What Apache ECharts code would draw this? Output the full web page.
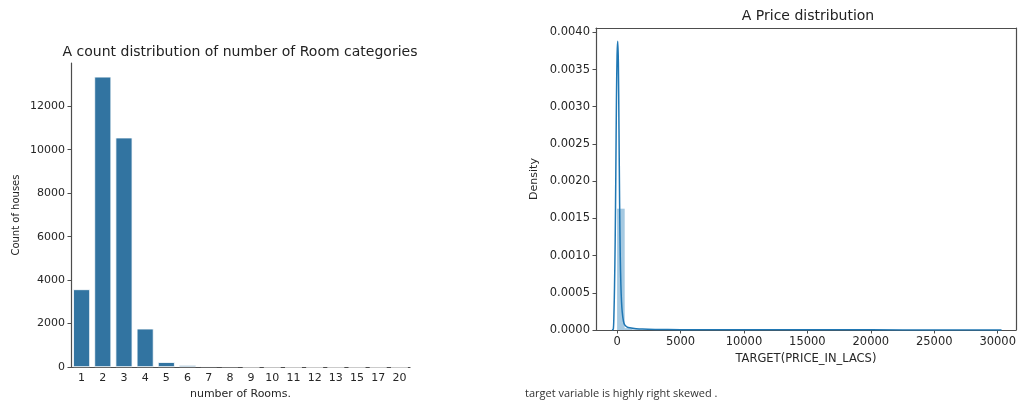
<!DOCTYPE html>
<html><head><meta charset="utf-8">
<script src="https://cdn.jsdelivr.net/npm/echarts@6/dist/echarts.min.js"></script>
<style>html,body{margin:0;padding:0;background:#fff}#c{width:1019px;height:405px}</style>
</head><body><div id="c"></div>
<script>
// Left chart: count of houses per number of rooms
const roomCategories = ['1','2','3','4','5','6','7','8','9','10','11','12','13','15','17','20'];
const roomCounts = [3580, 13360, 10560, 1770, 230, 95, 45, 38, 10, 6, 3, 2, 2, 1, 1, 1];
const countTicks = [0, 2000, 4000, 6000, 8000, 10000, 12000];

// Right chart: price distribution (histogram bins + KDE)
const histBins = [[0.25, 600, 0.00163], [600, 1200, 0.000025], [1200, 1800, 0.000008], [1800, 2400, 0.000004], [2400, 3000, 0.000002], [6000, 6600, 0.0000005], [29400, 30000, 0.0000003]];
const kdeX = [-400, -300, -250, -200, -150, -100, -50, 0, 50, 100, 150, 200, 250, 300, 350, 400, 500, 600, 800, 1000, 1500, 2000, 3000, 5000, 8000, 10000, 15000, 20000, 25000, 30000, 30300];
const kdeY = [0, 0.00001, 0.0002, 0.0006, 0.0012, 0.0021, 0.0031, 0.0037, 0.00388, 0.0036, 0.0027, 0.0017, 0.0010, 0.0006, 0.00038, 0.00025, 0.00012, 0.00007, 0.00004, 0.00003, 0.000018, 0.000012, 0.000008, 0.000005, 0.000004, 0.000003, 0.000002, 0.000002, 0.000001, 0.000001, 0];
const densityTicks = [0, 0.0005, 0.001, 0.0015, 0.002, 0.0025, 0.003, 0.0035, 0.004];
const priceTicks = [0, 5000, 10000, 15000, 20000, 25000, 30000];

const FONT = 'DejaVu Sans';
const TXT = '#262626';
const AX = '#4d4d4d';

const chart = echarts.init(document.getElementById('c'), null, {renderer: 'canvas'});
const kdeData = kdeX.map((x, i) => [x, kdeY[i]]);

chart.setOption({
  animation: false,
  backgroundColor: '#fff',
  grid: [
    {left: 71, top: 63, width: 339, height: 309},
    {left: 596, top: 28, width: 424, height: 302}
  ],
  xAxis: [
    {
      gridIndex: 0, type: 'category', data: roomCategories,
      boundaryGap: true,
      name: 'number of Rooms.', nameLocation: 'middle', nameGap: 19,
      nameTextStyle: {fontFamily: FONT, fontSize: 11, color: TXT},
      axisLine: {lineStyle: {color: AX, width: 1.2}},
      axisTick: {alignWithLabel: true, length: 3.5, lineStyle: {color: AX}},
      axisLabel: {fontFamily: FONT, fontSize: 11, color: TXT, margin: 6, interval: 0},
      splitLine: {show: false}
    },
    {
      gridIndex: 1, type: 'value', min: -1662, max: 31430,
      name: 'TARGET(PRICE_IN_LACS)', nameLocation: 'middle', nameGap: 22,
      nameTextStyle: {fontFamily: FONT, fontSize: 11.5, color: TXT},
      axisLine: {onZero: false, lineStyle: {color: AX, width: 1.2}},
      axisTick: {length: 3.5, lineStyle: {color: AX}, customValues: priceTicks},
      axisLabel: {fontFamily: FONT, fontSize: 11.5, color: TXT, margin: 6, customValues: priceTicks,
        formatter: v => String(v)},
      splitLine: {show: false}
    },
    {
      gridIndex: 1, type: 'value', position: 'top', min: -1662, max: 31430,
      axisLine: {onZero: false, lineStyle: {color: AX, width: 1.2}},
      axisTick: {show: false}, axisLabel: {show: false}, splitLine: {show: false}
    }
  ],
  yAxis: [
    {
      gridIndex: 0, type: 'value', min: 0, max: 13990,
      name: 'Count of houses', nameLocation: 'middle', nameGap: 50,
      nameTextStyle: {fontFamily: FONT, fontSize: 10, color: TXT},
      axisLine: {show: true, lineStyle: {color: AX, width: 1.2}},
      axisTick: {show: true, length: 3.5, lineStyle: {color: AX}, customValues: countTicks},
      axisLabel: {fontFamily: FONT, fontSize: 11, color: TXT, margin: 6, customValues: countTicks,
        formatter: v => String(v)},
      splitLine: {show: false}
    },
    {
      gridIndex: 1, type: 'value', min: 0, max: 0.004058,
      name: 'Density', nameLocation: 'middle', nameGap: 56,
      nameTextStyle: {fontFamily: FONT, fontSize: 11, color: TXT},
      axisLine: {show: true, onZero: false, lineStyle: {color: AX, width: 1.2}},
      axisTick: {show: true, length: 3.5, lineStyle: {color: AX}, customValues: densityTicks},
      axisLabel: {fontFamily: FONT, fontSize: 11.5, color: TXT, margin: 6, customValues: densityTicks,
        formatter: v => v.toFixed(4)},
      splitLine: {show: false}
    },
    {
      gridIndex: 1, type: 'value', position: 'right', min: 0, max: 0.004058,
      axisLine: {show: true, onZero: false, lineStyle: {color: AX, width: 1.2}},
      axisTick: {show: false}, axisLabel: {show: false}, splitLine: {show: false}
    }
  ],
  series: [
    {
      type: 'bar', xAxisIndex: 0, yAxisIndex: 0, data: roomCounts,
      barWidth: '80%',
      itemStyle: {color: '#3274a1', borderColor: '#ffffff', borderWidth: 0.8}
    },
    {
      type: 'custom', xAxisIndex: 1, yAxisIndex: 1, data: histBins,
      encode: {x: [0, 1], y: 2},
      renderItem: function (params, api) {
        const p0 = api.coord([api.value(0), api.value(2)]);
        const p1 = api.coord([api.value(1), 0]);
        return {type: 'rect', shape: {x: p0[0], y: p0[1], width: p1[0] - p0[0], height: p1[1] - p0[1]},
          style: {fill: 'rgba(31,119,180,0.4)'}};
      }
    },
    {
      type: 'line', xAxisIndex: 1, yAxisIndex: 1, data: kdeData,
      showSymbol: false, smooth: 0.3,
      lineStyle: {color: '#1f77b4', width: 1.5}
    }
  ],
  graphic: [
    {type: 'text', x: 240, y: 52, style: {text: 'A count distribution of number of Room categories', font: '14px "DejaVu Sans"', fill: '#222', align: 'center', verticalAlign: 'middle'}},
    {type: 'text', x: 808, y: 16, style: {text: 'A Price distribution', font: '14px "DejaVu Sans"', fill: '#222', align: 'center', verticalAlign: 'middle'}},
    {type: 'text', x: 525, y: 394, style: {text: 'target variable is highly right skewed .', font: '11px "Open Sans"', fill: '#333', align: 'left', verticalAlign: 'middle'}}
  ]
});
</script>
</body></html>
